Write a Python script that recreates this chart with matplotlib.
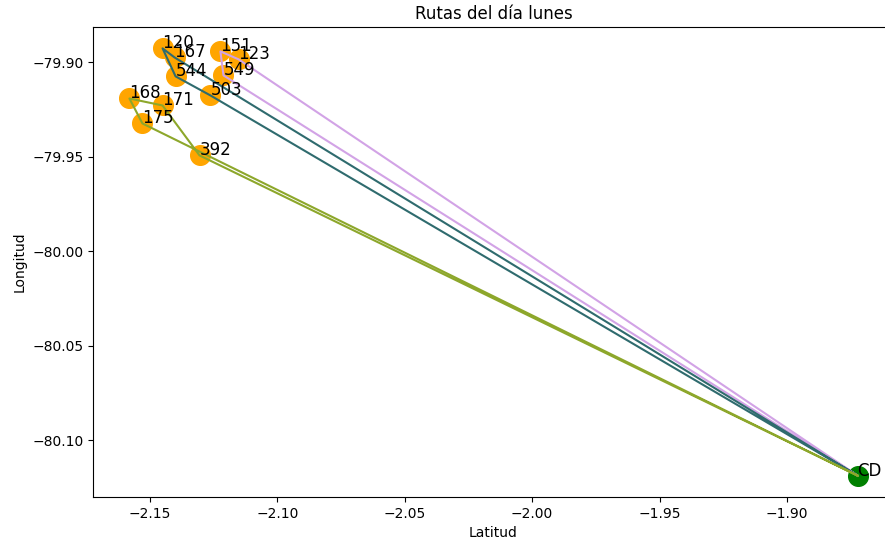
import matplotlib
matplotlib.use("Agg")
import matplotlib.pyplot as plt

# ---------------- DATA ----------------
clientes = ["120", "167", "544", "503", "151", "123", "549", "168", "171", "175", "392"]
latitud = [-2.1450, -2.1403, -2.1399, -2.1262, -2.1223, -2.1152, -2.1211,
           -2.1580, -2.1450, -2.1529, -2.1305]
longitud = [-79.8927, -79.8975, -79.9075, -79.9176, -79.8943, -79.8985, -79.9070,
            -79.9192, -79.9229, -79.9324, -79.9493]

cd_lat = -1.8723
cd_lon = -80.1186

# rutas (empiezan y terminan en CD)
rutas = [
    ["CD", "123", "151", "549", "CD"],
    ["CD", "167", "120", "544", "503", "CD"],
    ["CD", "392", "171", "168", "175", "CD"],
]
colores_rutas = ["#d2a3e6", "#2f6b6e", "#8da72b"]

# ---------------- PLOT ----------------
coords = {c: (la, lo) for c, la, lo in zip(clientes, latitud, longitud)}
coords["CD"] = (cd_lat, cd_lon)

fig = plt.figure(figsize=(8.85, 5.42), dpi=100)
ax = fig.add_axes([0.1051, 0.0830, 0.9051, 0.8672])

ax.scatter(latitud, longitud, s=200, color="orange", zorder=2)
ax.scatter([cd_lat], [cd_lon], s=200, color="green", zorder=2)

for ruta, col in zip(rutas, colores_rutas):
    xs = [coords[p][0] for p in ruta]
    ys = [coords[p][1] for p in ruta]
    ax.plot(xs, ys, color=col, linewidth=1.5, zorder=3)

for c in clientes + ["CD"]:
    ax.text(coords[c][0], coords[c][1], c, fontsize=12, zorder=4)

ax.set_title("Rutas del día lunes", fontsize=12)
ax.set_xlabel("Latitud")
ax.set_ylabel("Longitud")

fig.savefig("out.png", dpi=100)
